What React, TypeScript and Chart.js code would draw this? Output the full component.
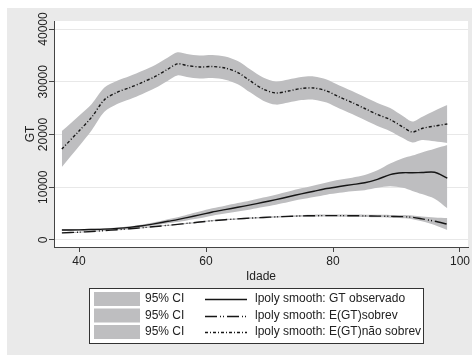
import { useEffect, useRef } from "react";
import { Chart, registerables } from "chart.js";

Chart.register(...registerables);

// Age grid (Idade) shared by every smooth and its confidence band
const ages = [37.3, 40, 42, 44, 46, 48, 50, 52, 54, 55.5, 57, 59, 61, 63, 65, 67, 69, 71, 73, 75, 77, 79, 81, 83, 85, 87, 89, 91, 92.5, 94, 96, 98];

// lpoly smooth: GT observado
const gtObservado = [1900, 1920, 1980, 2060, 2200, 2400, 2700, 3100, 3550, 3850, 4250, 4750, 5300, 5750, 6200, 6650, 7150, 7650, 8200, 8750, 9250, 9750, 10150, 10500, 10850, 11500, 12400, 12750, 12750, 12800, 12850, 11750];
const gtObservadoLo = [1750, 1780, 1840, 1910, 2030, 2200, 2450, 2780, 3150, 3400, 3700, 4100, 4600, 5000, 5400, 5800, 6250, 6700, 7200, 7700, 8150, 8600, 8950, 9250, 9450, 9900, 10200, 9900, 9300, 8700, 7800, 6000];
const gtObservadoHi = [2050, 2060, 2120, 2210, 2370, 2600, 2950, 3420, 3950, 4300, 4800, 5400, 6000, 6500, 7000, 7500, 8050, 8600, 9200, 9800, 10350, 10900, 11400, 11800, 12300, 13200, 14500, 15500, 16000, 16600, 17300, 18000];

// lpoly smooth: E(GT)sobrev
const gtSobrev = [1350, 1480, 1620, 1780, 1950, 2130, 2330, 2550, 2780, 2950, 3150, 3400, 3650, 3850, 4000, 4150, 4270, 4380, 4480, 4560, 4600, 4620, 4620, 4600, 4570, 4530, 4480, 4420, 4300, 4000, 3550, 3000];
const gtSobrevLo = [1250, 1380, 1520, 1680, 1850, 2030, 2230, 2450, 2680, 2850, 3050, 3290, 3530, 3720, 3870, 4010, 4130, 4230, 4320, 4390, 4420, 4430, 4420, 4390, 4350, 4290, 4220, 4120, 3950, 3550, 2850, 1900];
const gtSobrevHi = [1450, 1580, 1720, 1880, 2050, 2230, 2430, 2650, 2880, 3050, 3250, 3510, 3770, 3980, 4130, 4290, 4410, 4530, 4640, 4730, 4780, 4810, 4820, 4810, 4790, 4770, 4740, 4720, 4650, 4450, 4250, 4150];

// lpoly smooth: E(GT)não sobrev
const gtNaoSobrev = [17250, 20660, 23300, 26600, 28000, 28900, 29900, 31000, 32400, 33400, 33080, 32800, 32890, 32600, 31750, 30140, 28620, 27870, 28250, 28720, 28810, 28250, 27110, 26070, 24930, 23790, 22840, 21420, 20470, 21140, 21610, 21990];
const gtNaoSobrevLo = [13850, 17760, 20800, 24300, 25800, 26700, 27700, 28800, 30200, 31200, 30880, 30600, 30690, 30400, 29550, 27940, 26420, 25670, 26050, 26520, 26610, 26050, 24910, 23870, 22730, 21590, 20640, 19320, 18470, 18940, 18710, 18390];
const gtNaoSobrevHi = [20650, 23560, 25800, 28900, 30200, 31100, 32100, 33200, 34600, 35600, 35280, 35000, 35090, 34800, 33950, 32340, 30820, 30070, 30450, 30920, 31010, 30450, 29310, 28270, 27130, 25990, 25040, 23520, 22470, 23340, 24510, 25590];

const yTicks = [0, 10000, 20000, 30000, 40000];
const xTicks = [40, 60, 80, 100];

const ciLabel = "95% CI";
const smoothLabels = [
  "lpoly smooth: GT observado",
  "lpoly smooth: E(GT)sobrev",
  "lpoly smooth: E(GT)não sobrev",
];

const FONT = "'Liberation Sans', Arial, Helvetica, sans-serif";
const INK = "#222222";
const BAND = "#bebec0";
const LINE = "#161616";
const OUTER = "#eaeaea";

const dashes: number[][] = [[], [12, 3, 1, 2, 1, 3], [3, 2, 1, 2]];

const toPoints = (vals: number[]) => ages.map((a, i) => ({ x: a, y: vals[i] }));

const bandPair = (lo: number[], hi: number[]) => [
  {
    data: toPoints(lo),
    borderWidth: 0,
    pointRadius: 0,
    fill: false,
    tension: 0.3,
    order: 1,
  },
  {
    data: toPoints(hi),
    borderWidth: 0,
    pointRadius: 0,
    backgroundColor: BAND,
    fill: "-1",
    tension: 0.3,
    order: 1,
  },
];

const smoothLine = (vals: number[], dash: number[]) => ({
  data: toPoints(vals),
  borderColor: LINE,
  borderWidth: 1.4,
  borderDash: dash,
  pointRadius: 0,
  fill: false,
  tension: 0.3,
  order: 0,
});

// Grey page behind a white plot region
const backdrop = {
  id: "backdrop",
  beforeDraw(chart: any) {
    const { ctx, chartArea } = chart;
    ctx.save();
    ctx.fillStyle = "#ffffff";
    ctx.fillRect(0, 0, chart.width, chart.height);
    ctx.fillStyle = OUTER;
    ctx.fillRect(7, 8, chart.width - 7, chart.height - 8);
    ctx.fillStyle = "#ffffff";
    ctx.fillRect(chartArea.left, chartArea.top, chartArea.right - chartArea.left, chartArea.bottom - chartArea.top);
    ctx.restore();
  },
};

// Boxed key below the axis: band swatch + "95% CI", line sample + smooth name
const keyBox = {
  id: "keyBox",
  afterDraw(chart: any) {
    const { ctx } = chart;
    const bx = 89.5, by = 288.5, bw = 334, bh = 55;
    ctx.save();
    ctx.fillStyle = "#ffffff";
    ctx.fillRect(bx, by, bw, bh);
    ctx.strokeStyle = "#333333";
    ctx.lineWidth = 1;
    ctx.strokeRect(bx, by, bw, bh);
    ctx.font = `12px ${FONT}`;
    ctx.textBaseline = "middle";
    ctx.textAlign = "left";
    smoothLabels.forEach((label, i) => {
      const cy = 299 + i * 16.5;
      ctx.fillStyle = BAND;
      ctx.fillRect(94, cy - 7, 46, 14);
      ctx.fillStyle = INK;
      ctx.fillText(ciLabel, 145, cy);
      ctx.strokeStyle = LINE;
      ctx.lineWidth = 1.4;
      ctx.setLineDash(dashes[i]);
      ctx.beginPath();
      ctx.moveTo(205, Math.round(cy) + 0.5);
      ctx.lineTo(247, Math.round(cy) + 0.5);
      ctx.stroke();
      ctx.setLineDash([]);
      ctx.fillStyle = INK;
      ctx.fillText(label, 255, cy);
    });
    ctx.restore();
  },
};

export default function App() {
  const canvasRef = useRef<HTMLCanvasElement | null>(null);

  useEffect(() => {
    const canvas = canvasRef.current;
    if (!canvas) return;
    const tickFont = { family: FONT, size: 12 };
    const chart = new Chart(canvas, {
      type: "line",
      data: {
        datasets: [
          ...bandPair(gtObservadoLo, gtObservadoHi),
          ...bandPair(gtSobrevLo, gtSobrevHi),
          ...bandPair(gtNaoSobrevLo, gtNaoSobrevHi),
          smoothLine(gtObservado, dashes[0]),
          smoothLine(gtSobrev, dashes[1]),
          smoothLine(gtNaoSobrev, dashes[2]),
        ] as any,
      },
      options: {
        animation: false,
        responsive: false,
        devicePixelRatio: 1,
        events: [],
        layout: { padding: { top: 21, right: 4, left: 0, bottom: 68 } },
        plugins: {
          legend: { display: false },
          tooltip: { enabled: false },
        },
        scales: {
          x: {
            type: "linear",
            min: 36.06,
            max: 101.26,
            afterBuildTicks: (s: any) => {
              s.ticks = xTicks.map((v) => ({ value: v }));
            },
            afterFit: (s: any) => {
              s.height = 40;
              s.paddingLeft = 0;
              s.paddingRight = 0;
            },
            grid: { drawOnChartArea: false, drawTicks: true, tickLength: 5, tickColor: "#444444" },
            border: { color: "#444444", width: 1 },
            ticks: {
              color: INK,
              font: tickFont,
              padding: 2,
              maxRotation: 0,
              autoSkip: false,
              callback: (v: any) => String(v),
            },
            title: {
              display: true,
              text: "Idade",
              color: INK,
              font: tickFont,
              padding: { top: 0, bottom: 3 },
            },
          },
          y: {
            type: "linear",
            min: -1330,
            max: 41520,
            afterBuildTicks: (s: any) => {
              s.ticks = yTicks.map((v) => ({ value: v }));
            },
            afterFit: (s: any) => {
              s.width = 54;
              s.paddingTop = 0;
              s.paddingBottom = 0;
            },
            grid: { color: "#e8e8e8", lineWidth: 1, drawTicks: true, tickLength: 5, tickColor: "#444444" },
            border: { color: "#444444", width: 1 },
            ticks: {
              color: INK,
              font: tickFont,
              minRotation: 90,
              maxRotation: 90,
              crossAlign: "center",
              padding: -11,
              autoSkip: false,
              callback: (v: any) => String(v),
            },
            title: {
              display: true,
              text: "GT",
              color: INK,
              font: tickFont,
              padding: { top: 23, bottom: 0 },
            },
          },
        },
      },
      plugins: [backdrop, keyBox],
    });
    return () => chart.destroy();
  }, []);

  return (
    <div style={{ position: "fixed", left: 0, top: 0, width: 472, height: 355 }}>
      <canvas ref={canvasRef} width={472} height={355} style={{ width: 472, height: 355, display: "block" }} />
    </div>
  );
}
